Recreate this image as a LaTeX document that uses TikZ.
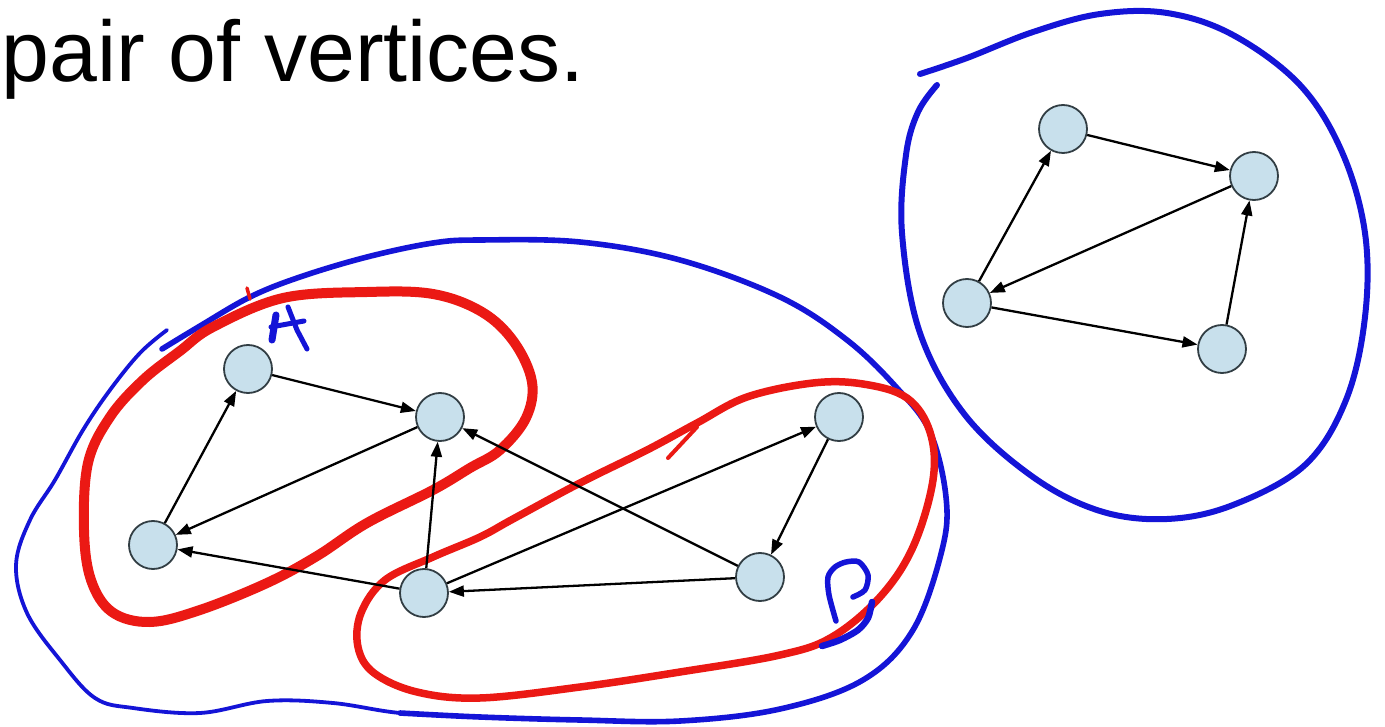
\documentclass[tikz,border=0pt]{standalone}
\usepackage{fontspec}
\setmainfont{Liberation Sans}
\usetikzlibrary{arrows.meta}
\definecolor{vfill}{RGB}{200,224,236}
\definecolor{vdraw}{RGB}{50,62,68}
\definecolor{penblue}{RGB}{20,20,215}
\definecolor{penred}{RGB}{235,25,20}
\tikzset{
  vert/.style={circle, draw=vdraw, fill=vfill, line width=1.8pt, minimum size=48pt, inner sep=0pt},
  edge/.style={line width=2.3pt, -{Triangle[length=15pt,width=11pt]}},
  blueink/.style={draw=penblue, line cap=round, line join=round},
  redink/.style={draw=penred, line cap=round, line join=round},
}
\begin{document}
\begin{tikzpicture}[x=1pt,y=-1pt]
\useasboundingbox (0,0) rectangle (1385,727);
\fill[white] (0,0) rectangle (1385,727);

\node[anchor=base west, inner sep=0pt, font=\fontsize{86pt}{100pt}\selectfont] (title) at (1.5,82) {pair of vertices.};

% blue outer loop (left component)
\draw[blueink, line width=3.8pt] plot[smooth, tension=0.6] coordinates {
 (167,330) (140,353) (110,390) (83,430) (55,480) (30,520) (16,565) (27,613) (60,660) (95,698) (133,708) (200,713) (267,701) (333,703) (400,713) (480,717)};
\draw[blueink, line width=5.6pt] plot[smooth, tension=0.6] coordinates {
 (400,713) (480,717) (580,720) (680,721) (780,709) (863,680) (913,630) (942,550) (946,497) (930,432) (897,388) (847,340) (780,297) (680,260) (580,242) (480,240) (433,243) (367,257) (300,277) (250,297) (200,326) (162,349)};

% blue loop (right component)
\draw[blueink, line width=6pt] plot[smooth, tension=0.6] coordinates {
 (937,85) (918,112) (906,155) (902,233) (920,333) (965,415) (1033,477) (1100,511) (1167,519) (1233,505) (1305,465) (1346,400) (1365,317) (1365,233) (1342,152) (1300,85) (1233,35) (1167,13) (1100,14) (1033,32) (967,58) (920,74)};

% red loop A
\draw[redink, line width=10pt] plot[smooth cycle, tension=0.6] coordinates {
 (213,327) (283,298) (367,292) (433,294) (482,312) (514,342) (532,382) (526,418) (500,450) (470,468) (433,490) (367,523) (317,556) (267,583) (200,610) (150,622) (112,612) (91,580) (84,530) (88,463) (110,417) (143,380) (180,351)};
\draw[redink, line width=3.5pt] (247,288) -- (250,299);

% red loop B
\draw[redink, line width=7.5pt] plot[smooth cycle, tension=0.6] coordinates {
 (480,537) (433,557) (385,580) (361,613) (358,647) (374,673) (417,692) (480,698) (580,687) (680,672) (780,655) (832,637) (880,597) (913,547) (933,480) (930,432) (907,398) (863,384) (813,383) (747,397) (697,423) (647,450) (580,483) (513,519)};
\draw[redink, line width=4pt] (697,427) -- (668,458);

% handwritten A
\draw[blueink, line width=7pt] (276,315) -- (272,340);
\draw[blueink, line width=5pt] (288,307) -- (297,330) -- (307,349);
\draw[blueink, line width=5pt] (271,327) -- (304,321);

% handwritten B
\draw[blueink, line width=5.5pt] plot[smooth, tension=0.5] coordinates {
 (836,621) (829,595) (828,577) (835,567) (846,562) (859,562) (868,575) (865,590) (853,597)};
\draw[blueink, line width=6.5pt] plot[smooth, tension=0.5] coordinates {
 (872,602) (868,618) (858,630) (840,640) (822,646)};

% left component vertices
\node[vert] (a1) at (248,369) {};
\node[vert] (a2) at (440,417) {};
\node[vert] (a3) at (153,545) {};
\node[vert] (a4) at (424,593) {};
\node[vert] (a5) at (839,417) {};
\node[vert] (a6) at (760,577) {};

% right component vertices
\node[vert] (b1) at (1063,129) {};
\node[vert] (b2) at (1254,176) {};
\node[vert] (b3) at (967,303) {};
\node[vert] (b4) at (1222,349) {};

% left edges
\draw[edge] (a1) -- (a2);
\draw[edge] (a3) -- (a1);
\draw[edge] (a2) -- (a3);
\draw[edge] (a4) -- (a2);
\draw[edge] (a4) -- (a3);
\draw[edge] (a4) -- (a5);
\draw[edge] (a6) -- (a2);
\draw[edge] (a5) -- (a6);
\draw[edge] (a6) -- (a4);

% right edges
\draw[edge] (b1) -- (b2);
\draw[edge] (b3) -- (b1);
\draw[edge] (b2) -- (b3);
\draw[edge] (b4) -- (b2);
\draw[edge] (b3) -- (b4);
\end{tikzpicture}
\end{document}
